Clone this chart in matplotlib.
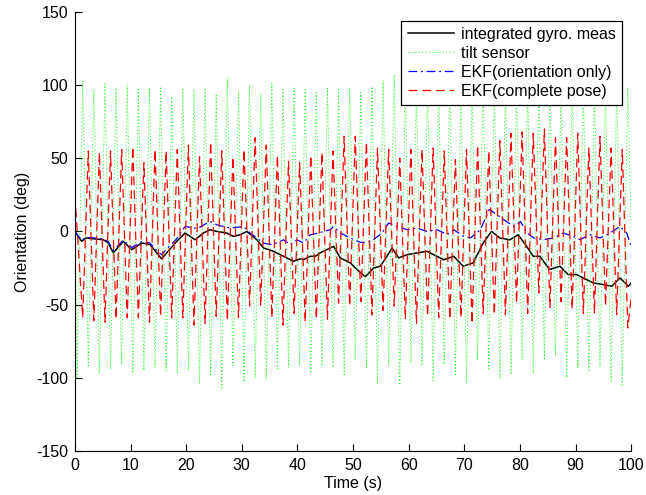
import numpy as np
import matplotlib.pyplot as plt

plt.rcParams['font.family'] = ['Liberation Sans', 'DejaVu Sans']
plt.rcParams['axes.unicode_minus'] = False

gyro_t = [0, 1.2, 2.0, 5.1, 6.0, 6.9, 8.7, 10.2, 12.0, 13.5, 14.7, 15.6, 16.5, 18.3,
          19.8, 21.6, 23.1, 24.3, 25.5, 27.3, 28.5, 29.7, 30.9, 32.7, 33.9, 35.7,
          37.5, 39.3, 40.5, 41.1, 42.3, 43.2, 44.1, 46.5, 47.7, 49.5, 50.7, 52.2,
          53.7, 54.9, 56.1, 57.0, 58.2, 59.7, 61.5, 63.3, 64.5, 66.3, 68.1, 69.8,
          71.6, 73.4, 74.9, 76.4, 78.2, 79.7, 81.2, 82.4, 83.6, 85.3, 87.2, 88.7,
          90.2, 91.4, 93.2, 95.0, 96.5, 98.0, 99.5, 100]
gyro_v = [0, -6.8, -4.5, -5.7, -7.9, -14.7, -6.8, -12.5, -7.9, -9, -14.7, -18.8, -14.7, -6.8,
          -1.1, -5.7, -1.1, 1.1, 0, -1.1, -3.4, -2.3, 0, -5.7, -11.3, -13.6,
          -17, -20.4, -18.8, -19.3, -17, -17, -14.7, -10.2, -18.1, -21.5, -26, -31,
          -25, -23.8, -17, -11.3, -18.1, -15.9, -14.7, -13.6, -15.9, -19.3, -17, -23.8,
          -21.5, -7.9, 0, -4.5, -5.7, -2.3, -10.2, -17, -17, -26, -23.8, -29.5,
          -29.5, -31.8, -35.2, -36.3, -37.5, -31.8, -37.5, -35.2]

# EKF (orientation only)
ekfo_t = [0, 1.2, 2.0, 5.1, 6.0, 6.9, 8.7, 10.2, 12.0, 13.5, 14.7, 15.6, 16.5, 18.3,
          19.8, 22.0, 24.3, 25.5, 27.9, 30.3, 31.5, 32.7, 33.9, 35.1, 36.3, 37.5,
          38.7, 39.9, 41.1, 42.3, 43.8, 45.9, 46.5, 47.7, 49.5, 51.3, 52.5, 53.7,
          55.2, 56.4, 57.9, 59.7, 61.5, 63.3, 65.1, 66.9, 68.1, 69.9, 71.1, 72.9,
          74.5, 75.9, 77.1, 78.9, 80.1, 81.3, 82.5, 84.3, 86.0, 87.8, 89.6, 90.8,
          92.6, 94.4, 96.2, 98.0, 99.2, 100]
ekfo_v = [0, -6, -4, -5, -7, -13, -6, -11, -7, -8, -13, -16, -12, -5,
          3.4, 2, 6.8, 4.5, 2.3, 3.4, -1.1, -4.5, -7.9, -9, -7.9, -5.7,
          -9, -5.7, -7.9, -2.3, -1.1, 1.2, 3.4, -1.1, -4.5, -7.4, -7.9, -5.6,
          -1.1, 5.7, 3.4, 1.2, 2.3, 0, 1.2, -2.2, 1.2, -3.4, -4.5, 1.2,
          15, 11.4, 8, 3.4, 6.8, -1.1, -4.5, -5.6, -4.5, -1.1, -3.4, -5.6,
          -2.2, -4.5, -1.1, 3.4, -1.1, -10]

# tilt sensor: crests near t = 1.4 + 2k, troughs near t = 0.4 + 2k
tilt_peaks = [103, 97, 101, 98, 100, 97, 98, 98, 92, 98, 97, 98, 93, 105, 96, 100, 94, 101,
              97, 98, 97, 96, 98, 97, 98, 95, 99, 103, 107, 98, 96, 100, 97, 99, 95, 98,
              101, 97, 96, 99, 98, 100, 97, 95, 98, 99, 97, 96, 100, 98]
tilt_troughs = [-100, -93, -97, -94, -91, -97, -95, -93, -95, -97, -95, -104, -99, -107, -92,
                -103, -100, -101, -94, -93, -92, -97, -92, -93, -98, -88, -93, -104, -92,
                -105, -90, -92, -102, -91, -98, -103, -88, -94, -100, -98, -88, -97, -88,
                -85, -100, -93, -95, -92, -103, -105]

# EKF (complete pose): troughs near t = 1.4 + 2k, crests near t = 2.4 + 2k
pose_troughs = [-59, -61, -62, -60, -59, -59, -62, -58, -59, -59, -64, -63, -58, -61, -59,
                -51, -51, -59, -64, -56, -62, -60, -60, -49, -51, -48, -57, -54, -51, -60,
                -63, -58, -59, -60, -59, -63, -56, -57, -57, -49, -56, -42, -52, -48, -53,
                -56, -56, -51, -57, -66]
pose_peaks = [55, 54, 55, 56, 58, 47, 56, 55, 56, 59, 51, 61, 55, 51, 56, 64,
              59, 52, 48, 47, 52, 54, 55, 65, 65, 61, 57, 56, 50, 56, 56, 57, 55,
              49, 56, 59, 55, 62, 67, 68, 67, 70, 64, 64, 67, 57, 65, 57, 56]

# assemble the oscillating series in time order
tilt_t = np.concatenate([[0], np.arange(0.4, 100, 2), np.arange(1.4, 100, 2), [100]])
tilt_v = np.concatenate([[0], tilt_troughs, tilt_peaks, [0]])
order = np.argsort(tilt_t)
tilt_t, tilt_v = tilt_t[order], tilt_v[order]

pose_t = np.concatenate([[0], np.arange(1.4, 100, 2), np.arange(2.4, 100, 2), [100]])
pose_v = np.concatenate([[25], pose_troughs, pose_peaks, [-45]])
order = np.argsort(pose_t)
pose_t, pose_v = pose_t[order], pose_v[order]

fs = 11.5

fig = plt.figure(figsize=(6.46, 4.95), dpi=100)
ax = fig.add_axes([0.116, 0.089, 0.861, 0.887])

ax.plot(gyro_t, gyro_v, '-', color='black', lw=1.1, label='integrated gyro. meas')
ax.plot(tilt_t, tilt_v, color='#00ff00', lw=0.7, ls=(0, (1, 2.5)), label='tilt sensor')
ax.plot(ekfo_t, ekfo_v, color='blue', lw=0.9, ls=(0, (7, 3, 1.5, 3)), label='EKF(orientation only)')
ax.plot(pose_t, pose_v, color='red', lw=0.9, ls=(0, (7, 4)), label='EKF(complete pose)')

ax.set_xlim(0, 100)
ax.set_ylim(-150, 150)
ax.set_xticks(np.arange(0, 101, 10))
ax.set_yticks(np.arange(-150, 151, 50))
ax.spines['top'].set_visible(False)
ax.spines['right'].set_visible(False)
ax.tick_params(direction='in', length=5, labelsize=fs, pad=5)
ax.set_xlabel('Time (s)', fontsize=fs, labelpad=2)
ax.set_ylabel('Orientation (deg)', fontsize=fs)

leg = ax.legend(loc='upper right', fontsize=fs, frameon=True, fancybox=False,
                edgecolor='black', framealpha=1, handlelength=2.9, handletextpad=0.45,
                borderaxespad=0.55, labelspacing=0.25, borderpad=0.4)
leg.get_frame().set_linewidth(0.9)

plt.savefig('out.png', dpi=100)
